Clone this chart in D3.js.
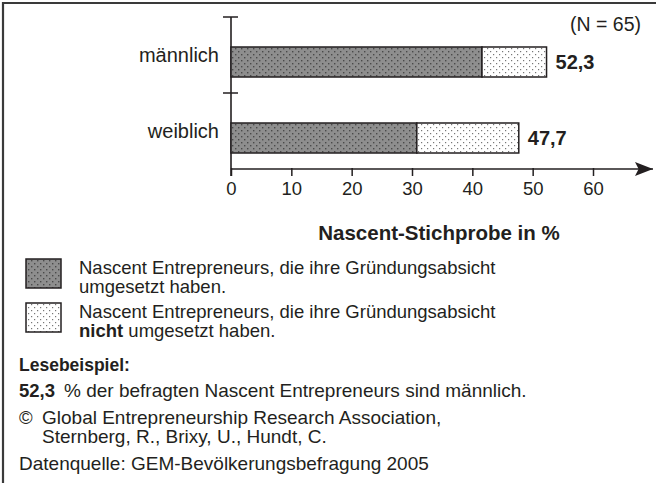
<!DOCTYPE html>
<meta charset="utf-8">
<script src="https://cdn.jsdelivr.net/npm/d3@7"></script>
<style>
  body { margin: 0; background: #fff; }
  svg { display: block; font-family: "Liberation Sans", Arial, sans-serif; fill: #231f20; }
  .tick text { font-size: 18.5px; fill: #231f20; }
</style>
<svg width="656" height="483"></svg>
<script>
    var categories = ["männlich", "weiblich"],
        umgesetzt = [41.6, 30.8],
        nichtUmgesetzt = [10.7, 16.9],
        xTicks = [0, 10, 20, 30, 40, 50, 60];
    var legendLines = [
        ["Nascent Entrepreneurs, die ihre Gründungsabsicht", "umgesetzt haben."],
        ["Nascent Entrepreneurs, die ihre Gründungsabsicht", "nicht umgesetzt haben."]
    ];

    var ink = "#231f20",
        svg = d3.select("svg");

    // dotted fills
    var defs = svg.append("defs");
    var dark = defs.append("pattern").attr("id", "dark").attr("patternUnits", "userSpaceOnUse")
        .attr("width", 6).attr("height", 6);
    dark.append("rect").attr("width", 6).attr("height", 6).attr("fill", "#8e8e8e");
    dark.append("rect").attr("x", 1).attr("y", 1).attr("width", 1.4).attr("height", 1.4).attr("fill", "#4a4a4a");
    dark.append("rect").attr("x", 4).attr("y", 4).attr("width", 1.4).attr("height", 1.4).attr("fill", "#4a4a4a");
    var light = defs.append("pattern").attr("id", "light").attr("patternUnits", "userSpaceOnUse")
        .attr("width", 6).attr("height", 6);
    light.append("rect").attr("width", 6).attr("height", 6).attr("fill", "#fff");
    light.append("rect").attr("x", 1).attr("y", 1).attr("width", 1.2).attr("height", 1.2).attr("fill", "#777");
    light.append("rect").attr("x", 4).attr("y", 4).attr("width", 1.2).attr("height", 1.2).attr("fill", "#777");
    defs.append("marker").attr("id", "arrow").attr("viewBox", "0 0 10 10").attr("refX", 10).attr("refY", 5)
        .attr("markerWidth", 18).attr("markerHeight", 14).attr("markerUnits", "userSpaceOnUse")
        .attr("orient", "auto").attr("preserveAspectRatio", "none")
        .append("path").attr("d", "M0,0 L10,5 L0,10 L2,5 Z").attr("fill", ink);

    // frame: top and left only
    svg.append("path").attr("d", "M3,483 V3 H656").attr("fill", "none")
        .attr("stroke", "#3a3a3a").attr("stroke-width", 2.2);

    var x = d3.scaleLinear().domain([0, 60]).range([231, 593]),
        y = d3.scaleBand().domain(categories).range([17, 169]);
    var barH = 30, barOff = 30;

    // x axis
    var xAxis = svg.append("g").attr("transform", "translate(0,169)")
        .call(d3.axisBottom(x).tickValues(xTicks).tickSize(7).tickPadding(6));
    xAxis.select(".domain").remove();
    xAxis.selectAll(".tick line").attr("stroke", ink).attr("stroke-width", 1.5).attr("y1", -1);
    svg.append("line").attr("x1", 231).attr("x2", 653).attr("y1", 169).attr("y2", 169)
        .attr("stroke", ink).attr("stroke-width", 1.6).attr("marker-end", "url(#arrow)");
    svg.append("text").attr("x", 439).attr("y", 240).attr("text-anchor", "middle")
        .attr("font-weight", "bold").attr("font-size", 20.5).text("Nascent-Stichprobe in %");

    // y axis with ticks at band edges
    svg.append("line").attr("x1", 231).attr("x2", 231).attr("y1", 17).attr("y2", 176)
        .attr("stroke", ink).attr("stroke-width", 1.6);
    svg.selectAll(".ytick").data([y.range()[0], y(categories[1])]).join("line")
        .attr("x1", 223).attr("x2", 238).attr("y1", d => d).attr("y2", d => d)
        .attr("stroke", ink).attr("stroke-width", 1.5);
    svg.selectAll(".cat").data(categories).join("text")
        .attr("x", 219).attr("y", d => y(d) + y.bandwidth() / 2 + 7)
        .attr("text-anchor", "end").attr("font-size", 20).text(d => d);

    // bars
    var rows = categories.map((c, i) => ({ cat: c, a: umgesetzt[i], b: nichtUmgesetzt[i] }));
    var g = svg.selectAll(".row").data(rows).join("g")
        .attr("transform", d => "translate(0," + (y(d.cat) + barOff) + ")");
    g.append("rect").attr("x", x(0)).attr("width", d => x(d.a) - x(0)).attr("height", barH)
        .attr("fill", "url(#dark)").attr("stroke", ink).attr("stroke-width", 1.5);
    g.append("rect").attr("x", d => x(d.a)).attr("width", d => x(d.a + d.b) - x(d.a)).attr("height", barH)
        .attr("fill", "url(#light)").attr("stroke", ink).attr("stroke-width", 1.5);
    g.append("text").attr("x", d => x(d.a + d.b) + 9).attr("y", barH / 2 + 7)
        .attr("font-weight", "bold").attr("font-size", 20)
        .text(d => d3.format(".1f")(d.a + d.b).replace(".", ","));

    svg.append("text").attr("x", 641).attr("y", 31).attr("text-anchor", "end")
        .attr("font-size", 19.5).text("(N = 65)");

    // legend
    var fills = ["url(#dark)", "url(#light)"];
    var lg = svg.selectAll(".leg").data(legendLines).join("g")
        .attr("transform", (d, i) => "translate(0," + (259 + i * 44) + ")");
    lg.append("rect").attr("x", 26).attr("width", 35).attr("height", 29)
        .attr("fill", (d, i) => fills[i]).attr("stroke", ink).attr("stroke-width", 1.5);
    lg.append("text").attr("x", 79).attr("y", 15).attr("font-size", 18.5).text(d => d[0]);
    var l2 = lg.append("text").attr("x", 79).attr("y", 34).attr("font-size", 18.5);
    l2.filter((d, i) => i == 1).append("tspan").attr("font-weight", "bold").text("nicht");
    l2.append("tspan").text((d, i) => i == 1 ? " umgesetzt haben." : d[1]);

    // notes
    svg.append("text").attr("x", 19).attr("y", 371).attr("font-size", 17.5).attr("font-weight", "bold")
        .text("Lesebeispiel:");
    svg.append("text").attr("x", 19).attr("y", 397).attr("font-size", 18.5).attr("font-weight", "bold")
        .text(d3.format(".1f")(umgesetzt[0] + nichtUmgesetzt[0]).replace(".", ","));
    svg.append("text").attr("x", 64).attr("y", 397).attr("font-size", 19)
        .text("% der befragten Nascent Entrepreneurs sind männlich.");
    svg.append("text").attr("x", 19).attr("y", 424).attr("font-size", 18.5).text("©");
    svg.append("text").attr("x", 42).attr("y", 424).attr("font-size", 19)
        .text("Global Entrepreneurship Research Association,");
    svg.append("text").attr("x", 42).attr("y", 443).attr("font-size", 19)
        .text("Sternberg, R., Brixy, U., Hundt, C.");
    svg.append("text").attr("x", 19).attr("y", 470).attr("font-size", 19)
        .text("Datenquelle: GEM-Bevölkerungsbefragung 2005");
</script>
